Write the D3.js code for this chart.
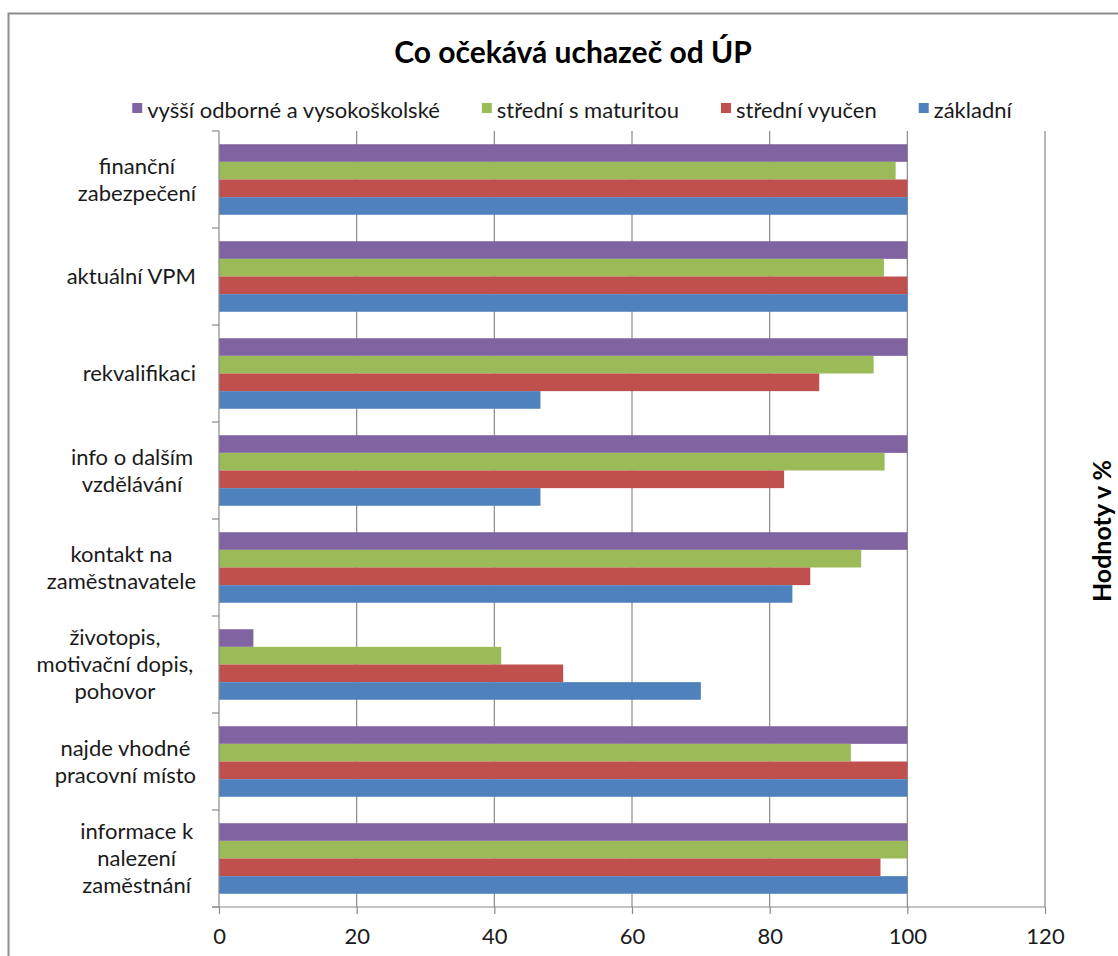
<!DOCTYPE html>
<html>
<head>
<meta charset="utf-8">
<script src="https://cdn.jsdelivr.net/npm/d3@7"></script>
<style>
  html, body { margin: 0; padding: 0; background: #fff; }
  svg { display: block; font-family: Lato, "Open Sans", sans-serif; }
</style>
</head>
<body>
<svg id="chart" width="1118" height="956"></svg>
<script>
// Survey answers (percent), categories listed top to bottom
const categories = [
  "finanční zabezpečení",
  "aktuální VPM",
  "rekvalifikaci",
  "info o dalším vzdělávání",
  "kontakt na zaměstnavatele",
  "životopis, motivační dopis, pohovor",
  "najde vhodné pracovní místo",
  "informace k nalezení zaměstnání"
];
// Series listed in legend order (top bar of each group first)
const seriesNames = ["vyšší odborné a vysokoškolské", "střední s maturitou", "střední vyučen", "základní"];
const seriesColors = ["#8064A2", "#9BBB59", "#C0504D", "#4F81BD"];
const vyssi     = [100, 100, 100, 100, 100, 5, 100, 100];
const maturita  = [98.3, 96.6, 95.1, 96.7, 93.3, 41, 91.8, 100];
const vyucen    = [100, 100, 87.2, 82.1, 85.9, 50, 100, 96.1];
const zakladni  = [100, 100, 46.7, 46.7, 83.3, 70, 100, 100];
const seriesValues = [vyssi, maturita, vyucen, zakladni];
const xTicks = [0, 20, 40, 60, 80, 100, 120];
const chartTitle = "Co očekává uchazeč od ÚP";
const axisTitle = "Hodnoty v %";

const svg = d3.select("#chart");
const W = 1118, H = 956;
const plot = { left: 219, right: 1045, top: 131, bottom: 907 };
const textColor = "#1a1a1a";
const gridColor = "#8a8a8a";
const fontSize = 22;

// Outer chart frame (runs off the right and bottom edges)
svg.append("rect")
  .attr("x", 8.5).attr("y", 13.5)
  .attr("width", W + 20).attr("height", H + 20)
  .attr("fill", "#fff")
  .attr("stroke", "#8c8c8c").attr("stroke-width", 2);

// Title
svg.append("text")
  .attr("x", 573).attr("y", 63)
  .attr("text-anchor", "middle")
  .attr("font-size", 30).attr("font-weight", "bold")
  .attr("fill", "#000")
  .text(chartTitle);

// Scales
const x = d3.scaleLinear().domain([0, 120]).range([plot.left, plot.right]);
const y = d3.scaleBand().domain(categories).range([plot.top, plot.bottom])
  .paddingInner(1.5 / 5.5).paddingOuter(0.75 / 5.5);
const ySub = d3.scaleBand().domain(seriesNames).range([0, y.bandwidth()]);

// Vertical gridlines
svg.append("g")
  .selectAll("line")
  .data(xTicks.filter(d => d > 0))
  .join("line")
  .attr("x1", d => x(d)).attr("x2", d => x(d))
  .attr("y1", plot.top).attr("y2", plot.bottom)
  .attr("stroke", gridColor).attr("stroke-width", 1.2);

// Bars
const rows = categories.map((c, i) => ({
  category: c,
  values: seriesNames.map((s, j) => ({ series: s, color: seriesColors[j], value: seriesValues[j][i] }))
}));
svg.append("g")
  .selectAll("g")
  .data(rows)
  .join("g")
  .attr("transform", d => `translate(0,${y(d.category)})`)
  .selectAll("rect")
  .data(d => d.values)
  .join("rect")
  .attr("x", x(0))
  .attr("y", d => ySub(d.series))
  .attr("width", d => x(d.value) - x(0))
  .attr("height", ySub.bandwidth())
  .attr("fill", d => d.color);

// Category axis (left) with ticks at band boundaries
const yAxisG = svg.append("g");
yAxisG.append("line")
  .attr("x1", plot.left).attr("x2", plot.left)
  .attr("y1", plot.top).attr("y2", plot.bottom)
  .attr("stroke", gridColor).attr("stroke-width", 1.2);
const boundaries = d3.range(categories.length + 1).map(i => plot.top + i * y.step());
yAxisG.selectAll("line.tick")
  .data(boundaries)
  .join("line")
  .attr("class", "tick")
  .attr("x1", plot.left - 7).attr("x2", plot.left)
  .attr("y1", d => d).attr("y2", d => d)
  .attr("stroke", gridColor).attr("stroke-width", 1.2);

// Category labels: wrapped text blocks right-aligned to the axis,
// each line centred inside its block
const labelRight = 196, labelMaxWidth = 162, lineH = 27;
const labelG = svg.append("g")
  .attr("font-size", fontSize).attr("fill", textColor).attr("text-anchor", "middle");
const probe = labelG.append("text").attr("visibility", "hidden");
const measure = s => { probe.text(s); return probe.node().getComputedTextLength(); };
categories.forEach(cat => {
  const words = cat.split(" ");
  const lines = [];
  let cur = "";
  words.forEach(w => {
    const trial = cur ? cur + " " + w : w;
    if (measure(trial) > labelMaxWidth && cur) {
      lines.push(cur); cur = w;
    } else cur = trial;
  });
  if (cur) lines.push(cur);
  // wrapped lines keep their trailing space when sizing the block
  const blockW = d3.max(lines, (ln, k) => measure(k < lines.length - 1 ? ln + "\u00a0" : ln));
  const cx = labelRight - blockW / 2;
  const cy = y(cat) + y.bandwidth() / 2;
  const t = labelG.append("text");
  lines.forEach((ln, k) => {
    t.append("tspan")
      .attr("x", cx)
      .attr("y", cy + (k - (lines.length - 1) / 2) * lineH)
      .attr("dy", "0.35em")
      .text(ln);
  });
});
probe.remove();

// Value axis (bottom)
const xAxis = d3.axisBottom(x).tickValues(xTicks).tickSize(7).tickPadding(14);
const xAxisG = svg.append("g")
  .attr("transform", `translate(0,${plot.bottom})`)
  .call(xAxis);
xAxisG.select(".domain").attr("stroke", gridColor).attr("stroke-width", 1.2)
  .attr("d", `M${plot.left - 7},0H${plot.right}`);
xAxisG.selectAll(".tick line").attr("stroke", gridColor).attr("stroke-width", 1.2);
xAxisG.selectAll(".tick text")
  .attr("font-size", fontSize).attr("font-family", "Lato, 'Open Sans', sans-serif")
  .attr("fill", textColor);

// Legend, centred above the plot
const legendG = svg.append("g").attr("font-size", fontSize).attr("fill", textColor);
const items = seriesNames.map((s, i) => {
  const g = legendG.append("g");
  g.append("rect").attr("width", 10).attr("height", 10).attr("y", -8).attr("fill", seriesColors[i]);
  const t = g.append("text").attr("x", 15).attr("y", 0).attr("dy", "0.3em").text(s);
  return { g, w: 15 + t.node().getComputedTextLength() };
});
const gap = 42;
const totalW = d3.sum(items, d => d.w) + gap * (items.length - 1);
let lx = 572 - totalW / 2;
items.forEach(it => {
  it.g.attr("transform", `translate(${lx},${111})`);
  lx += it.w + gap;
});

// Axis title on the right
svg.append("text")
  .attr("transform", `translate(1102,${(plot.top + plot.bottom) / 2 + 12}) rotate(-90)`)
  .attr("text-anchor", "middle")
  .attr("dy", "0.35em")
  .attr("font-size", 25).attr("font-weight", "bold")
  .attr("fill", "#000")
  .text(axisTitle);
</script>
</body>
</html>
